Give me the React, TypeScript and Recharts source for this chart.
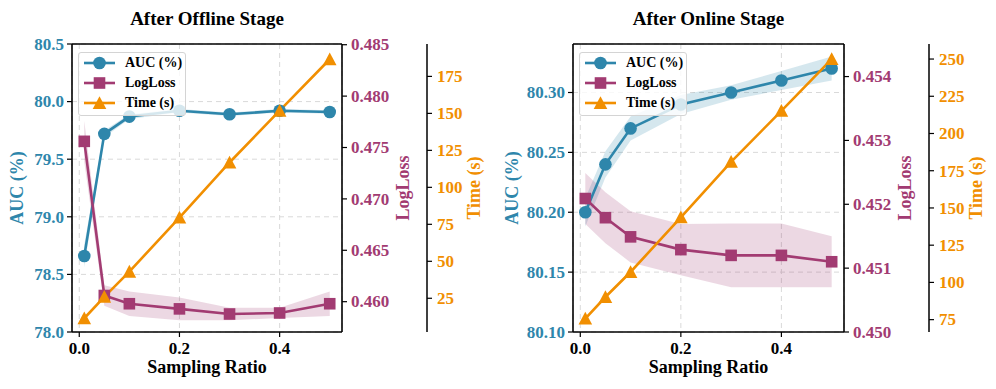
import React from 'react';
import {
  Area,
  CartesianGrid,
  ComposedChart,
  Legend,
  Line,
  ReferenceLine,
  XAxis,
  YAxis,
} from 'recharts';

const ratios = [0.01, 0.05, 0.1, 0.2, 0.3, 0.4, 0.5];
const xTicks = [0, 0.2, 0.4];

// After offline stage
const offlineAuc = [78.66, 79.72, 79.87, 79.92, 79.89, 79.92, 79.91];
const offlineAucStd = [0.1, 0.03, 0.02, 0.015, 0.015, 0.015, 0.015];
const offlineLogLoss = [0.4756, 0.4606, 0.4598, 0.4593, 0.4588, 0.4589, 0.4598];
const offlineLogLossStd = [0.002, 0.001, 0.0012, 0.0011, 0.0006, 0.0005, 0.0012];
const offlineTime = [11.5, 26, 43, 79.6, 116.8, 151.8, 186.6];
const offlineAucTicks = [78.0, 78.5, 79.0, 79.5, 80.0, 80.5];
const offlineLossTicks = [0.46, 0.465, 0.47, 0.475, 0.48, 0.485];
const offlineTimeTicks = [25, 50, 75, 100, 125, 150, 175];

// After online stage
const onlineAuc = [80.2, 80.24, 80.27, 80.29, 80.3, 80.31, 80.32];
const onlineAucStd = [0.012, 0.011, 0.01, 0.008, 0.006, 0.008, 0.01];
const onlineLogLoss = [0.45209, 0.45179, 0.45149, 0.45129, 0.4512, 0.4512, 0.4511];
const onlineLogLossStd = [0.0004, 0.0004, 0.0004, 0.0004, 0.0005, 0.0005, 0.0004];
const onlineTime = [75.7, 90.2, 107, 143.7, 181, 215.2, 250];
const onlineAucTicks = [80.1, 80.15, 80.2, 80.25, 80.3];
const onlineLossTicks = [0.45, 0.451, 0.452, 0.453, 0.454];
const onlineTimeTicks = [75, 100, 125, 150, 175, 200, 225, 250];

const AUC_COLOR = '#2E86AB';
const LOSS_COLOR = '#A23B72';
const TIME_COLOR = '#F18F01';
const FONT = '"Liberation Serif", "Times New Roman", serif';

const legendItems = [
  { name: 'AUC (%)', color: AUC_COLOR, shape: 'circle' },
  { name: 'LogLoss', color: LOSS_COLOR, shape: 'square' },
  { name: 'Time (s)', color: TIME_COLOR, shape: 'triangle' },
];

function MarkerShape({ shape, cx, cy, color }: { shape: string; cx: number; cy: number; color: string }) {
  if (shape === 'circle') return <circle cx={cx} cy={cy} r={6.3} fill={color} />;
  if (shape === 'square') return <rect x={cx - 5.8} y={cy - 5.8} width={11.6} height={11.6} fill={color} />;
  return <polygon points={`${cx},${cy - 6.8} ${cx - 6.8},${cy + 6} ${cx + 6.8},${cy + 6}`} fill={color} />;
}

const dotFor = (shape: string, color: string) => (p: any) => {
  if (p.cx == null || p.cy == null) return <g key={p.index} />;
  return <MarkerShape key={p.index} shape={shape} cx={p.cx} cy={p.cy} color={color} />;
};

function LegendBox() {
  return (
    <div
      style={{
        width: 106,
        height: 62,
        border: '1px solid #d4d4d4',
        borderRadius: 3,
        background: 'rgba(255,255,255,0.8)',
        fontFamily: FONT,
        fontWeight: 'bold',
        fontSize: 14,
        color: '#000',
      }}
    >
      {legendItems.map((it) => (
        <div key={it.name} style={{ display: 'flex', alignItems: 'center', height: 20 }}>
          <svg width={40} height={16} style={{ marginLeft: 3 }}>
            <line x1={2} y1={8} x2={33} y2={8} stroke={it.color} strokeWidth={2.6} />
            <MarkerShape shape={it.shape} cx={17.5} cy={8} color={it.color} />
          </svg>
          <span style={{ marginLeft: 3 }}>{it.name}</span>
        </div>
      ))}
    </div>
  );
}

const axisTitle = (text: string, color: string, dx: number) => ({
  content: (props: any) => {
    const vb = props.viewBox || {};
    const cx = vb.x + dx;
    const cy = vb.y + vb.height / 2;
    return (
      <text
        x={cx}
        y={cy}
        transform={`rotate(-90 ${cx} ${cy})`}
        textAnchor="middle"
        dominantBaseline="central"
        fill={color}
        fontFamily={FONT}
        fontWeight={700}
        fontSize={18}
      >
        {text}
      </text>
    );
  },
});

// tick renderer: kind 'x' sits below the axis, 'y' is centred on the tick
const tickFor = (color: string, kind: 'x' | 'y', fmt: (v: number) => string) => (props: any) => {
  const { x, y, payload, textAnchor, index } = props;
  return (
    <text
      key={index}
      x={x}
      y={y}
      dy={kind === 'x' ? '0.72em' : '0.34em'}
      textAnchor={textAnchor}
      fill={color}
      fontFamily={FONT}
      fontWeight={700}
      fontSize={17}
    >
      {fmt(payload.value)}
    </text>
  );
};

interface PanelProps {
  title: string;
  left: number;
  width: number;
  auc: number[];
  aucStd: number[];
  loss: number[];
  lossStd: number[];
  time: number[];
  aucDomain: [number, number];
  aucTicks: number[];
  aucDigits: number;
  lossDomain: [number, number];
  lossTicks: number[];
  timeDomain: [number, number];
  timeTicks: number[];
  aucAxisWidth: number;
  aucLabelX: number;
  marginRight: number;
}

function Panel(p: PanelProps) {
  const rows = ratios.map((r, i) => ({
    ratio: r,
    auc: p.auc[i],
    aucBand: [p.auc[i] - p.aucStd[i], p.auc[i] + p.aucStd[i]],
    loss: p.loss[i],
    lossBand: [p.loss[i] - p.lossStd[i], p.loss[i] + p.lossStd[i]],
    time: p.time[i],
  }));
  const plotLeft = p.aucAxisWidth;
  const plotWidth = p.width - p.marginRight - 60 - 85 - plotLeft;
  return (
    <div style={{ position: 'absolute', left: p.left, top: 0, width: p.width, height: 389 }}>
      <div
        style={{
          position: 'absolute',
          left: plotLeft,
          top: 9,
          width: plotWidth,
          textAlign: 'center',
          fontFamily: FONT,
          fontWeight: 'bold',
          fontSize: 19,
          lineHeight: '19px',
          color: '#000',
        }}
      >
        {p.title}
      </div>
      <ComposedChart
        width={p.width}
        height={389}
        data={rows}
        margin={{ top: 44, right: p.marginRight, bottom: 0, left: 0 }}
      >
        <CartesianGrid yAxisId="auc" stroke="#d9d9d9" strokeDasharray="5 4" />
        <XAxis
          dataKey="ratio"
          type="number"
          domain={[-0.0145, 0.5245]}
          allowDataOverflow
          ticks={xTicks}
          height={57}
          tickSize={5}
          tickMargin={5}
          tick={tickFor('#000', 'x', (v) => v.toFixed(1))}
          axisLine={{ stroke: '#000', strokeWidth: 1.6 }}
          tickLine={{ stroke: '#000', strokeWidth: 1.2 }}
          label={{
            value: 'Sampling Ratio',
            position: 'insideBottom',
            offset: 16,
            fill: '#000',
            fontFamily: FONT,
            fontWeight: 700,
            fontSize: 18,
          }}
        />
        <YAxis
          yAxisId="auc"
          orientation="left"
          width={p.aucAxisWidth}
          domain={p.aucDomain}
          allowDataOverflow
          ticks={p.aucTicks}
          tickSize={5}
          tickMargin={3}
          tick={tickFor(AUC_COLOR, 'y', (v) => v.toFixed(p.aucDigits))}
          axisLine={{ stroke: '#000', strokeWidth: 1.6 }}
          tickLine={{ stroke: '#000', strokeWidth: 1.2 }}
          label={axisTitle('AUC (%)', AUC_COLOR, p.aucLabelX)}
        />
        <YAxis
          yAxisId="loss"
          orientation="right"
          width={85}
          domain={p.lossDomain}
          allowDataOverflow
          ticks={p.lossTicks}
          tickSize={5}
          tickMargin={4}
          tick={tickFor(LOSS_COLOR, 'y', (v) => v.toFixed(3))}
          axisLine={{ stroke: '#000', strokeWidth: 1.6 }}
          tickLine={{ stroke: '#000', strokeWidth: 1.2 }}
          label={axisTitle('LogLoss', LOSS_COLOR, 61)}
        />
        <YAxis
          yAxisId="time"
          orientation="right"
          width={60}
          domain={p.timeDomain}
          allowDataOverflow
          ticks={p.timeTicks}
          tickSize={5}
          tickMargin={5}
          tick={tickFor(TIME_COLOR, 'y', (v) => String(v))}
          axisLine={{ stroke: '#000', strokeWidth: 1.5 }}
          tickLine={{ stroke: '#000', strokeWidth: 1.2 }}
          label={axisTitle('Time (s)', TIME_COLOR, 47)}
        />
        <ReferenceLine yAxisId="auc" y={p.aucDomain[1]} stroke="#000" strokeWidth={1.6} />
        <Area
          yAxisId="auc"
          dataKey="aucBand"
          type="linear"
          stroke="none"
          fill={AUC_COLOR}
          fillOpacity={0.2}
          isAnimationActive={false}
          activeDot={false}
        />
        <Line
          yAxisId="auc"
          dataKey="auc"
          type="linear"
          stroke={AUC_COLOR}
          strokeWidth={2.6}
          dot={dotFor('circle', AUC_COLOR)}
          activeDot={false}
          isAnimationActive={false}
        />
        <Area
          yAxisId="loss"
          dataKey="lossBand"
          type="linear"
          stroke="none"
          fill={LOSS_COLOR}
          fillOpacity={0.2}
          isAnimationActive={false}
          activeDot={false}
        />
        <Line
          yAxisId="loss"
          dataKey="loss"
          type="linear"
          stroke={LOSS_COLOR}
          strokeWidth={2.6}
          dot={dotFor('square', LOSS_COLOR)}
          activeDot={false}
          isAnimationActive={false}
        />
        <Line
          yAxisId="time"
          dataKey="time"
          type="linear"
          stroke={TIME_COLOR}
          strokeWidth={2.6}
          dot={dotFor('triangle', TIME_COLOR)}
          activeDot={false}
          isAnimationActive={false}
        />
        <Legend
          layout="vertical"
          align="center"
          verticalAlign="middle"
          content={() => <LegendBox />}
          wrapperStyle={{ top: 52, left: plotLeft + 6, width: 'auto', height: 'auto' }}
        />
      </ComposedChart>
    </div>
  );
}

export default function App() {
  return (
    <div
      style={{
        position: 'absolute',
        left: 0,
        top: 0,
        width: 996,
        height: 389,
        background: '#fff',
        fontFamily: FONT,
      }}
    >
      <Panel
        title="After Offline Stage"
        left={0}
        width={498}
        auc={offlineAuc}
        aucStd={offlineAucStd}
        loss={offlineLogLoss}
        lossStd={offlineLogLossStd}
        time={offlineTime}
        aucDomain={[78.0, 80.5]}
        aucTicks={offlineAucTicks}
        aucDigits={1}
        lossDomain={[0.45705, 0.48507]}
        lossTicks={offlineLossTicks}
        timeDomain={[2.2, 196.9]}
        timeTicks={offlineTimeTicks}
        aucAxisWidth={72}
        aucLabelX={17}
        marginRight={11}
      />
      <Panel
        title="After Online Stage"
        left={500}
        width={496}
        auc={onlineAuc}
        aucStd={onlineAucStd}
        loss={onlineLogLoss}
        lossStd={onlineLogLossStd}
        time={onlineTime}
        aucDomain={[80.1, 80.3405]}
        aucTicks={onlineAucTicks}
        aucDigits={2}
        lossDomain={[0.45, 0.45451]}
        lossTicks={onlineLossTicks}
        timeDomain={[66.7, 260.1]}
        timeTicks={onlineTimeTicks}
        aucAxisWidth={73}
        aucLabelX={12}
        marginRight={7}
      />
    </div>
  );
}
